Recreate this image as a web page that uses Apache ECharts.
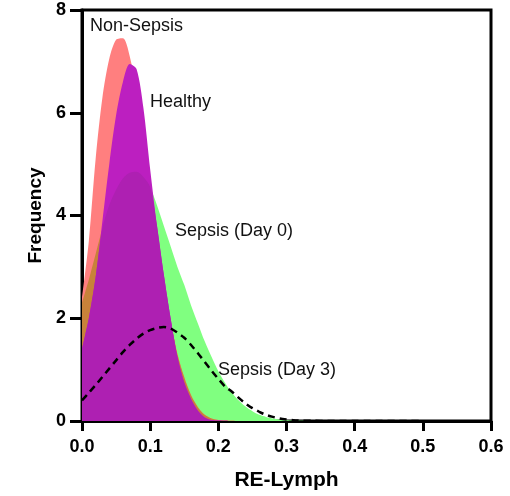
<!DOCTYPE html>
<html><head><meta charset="utf-8">
<script src="https://cdn.jsdelivr.net/npm/echarts@6/dist/echarts.min.js"></script>
<style>html,body{margin:0;padding:0;background:#fff}#c{width:510px;height:496px}</style>
</head><body><div id="c"></div>
<script>
// x positions (RE-Lymph)
const xs = [0,0.01,0.02,0.03,0.04,0.05,0.06,0.07,0.08,0.09,0.10,0.11,0.12,0.13,0.14,0.15,0.16,0.17,0.18,0.19,0.20,0.21,0.22,0.23,0.24,0.25,0.26,0.27,0.28,0.29,0.30,0.31,0.32,0.34,0.36,0.38,0.40,0.42,0.44,0.46,0.48,0.50];
const nonSepsis = [2.4,3.5,5.1,6.3,7.05,7.42,7.45,7.1,6.4,5.5,4.6,3.6,2.7,1.95,1.3,0.85,0.5,0.27,0.12,0.05,0.02,0.01,0.005,0,0,0,0,0,0,0,0,0,0,0,0,0,0,0,0,0,0,0];
const healthy = [1.4,2.0,2.8,3.9,5.0,5.95,6.6,6.95,6.85,6.1,4.9,3.8,2.85,2.0,1.25,0.75,0.43,0.2,0.07,0.02,0.01,0.005,0,0,0,0,0,0,0,0,0,0,0,0,0,0,0,0,0,0,0,0];
const sepsisDay0 = [2.3,2.75,3.25,3.75,4.2,4.5,4.72,4.83,4.85,4.75,4.55,4.2,3.8,3.4,3.0,2.65,2.25,1.9,1.55,1.25,0.97,0.74,0.55,0.4,0.28,0.19,0.12,0.08,0.05,0.03,0.015,0.008,0.004,0,0,0,0,0,0,0,0,0];
const sepsisDay3 = [0.40,0.55,0.70,0.86,1.02,1.18,1.34,1.48,1.6,1.7,1.77,1.81,1.83,1.8,1.72,1.62,1.48,1.32,1.15,0.98,0.82,0.67,0.57,0.45,0.34,0.25,0.18,0.12,0.08,0.05,0.03,0.015,0.008,0.003,0,0,0,0,0,0,0,0];
const xTicks = ['0.0','0.1','0.2','0.3','0.4','0.5','0.6'];
const yTicks = ['0','2','4','6','8'];
const labels = ['Non-Sepsis','Healthy','Sepsis (Day 0)','Sepsis (Day 3)'];

const pairs = arr => xs.map((x,i)=>[x,arr[i]]);
const minOf = (a,b) => a.map((v,i)=>Math.min(v,b[i]));

const area = (name, data, color) => ({
  type:'line', name, data: pairs(data), smooth:0.3, symbol:'none',
  lineStyle:{width:0}, areaStyle:{color, opacity:1}, silent:true
});

const chart = echarts.init(document.getElementById('c'), null, {renderer:'canvas'});
const F = 'Liberation Sans, Arial, Helvetica, sans-serif';
chart.setOption({
  animation:false,
  backgroundColor:'#fff',
  grid:{left:82,right:19,top:10,bottom:75,show:true,borderColor:'#000',borderWidth:3,backgroundColor:'transparent'},
  xAxis:{type:'value',min:0,max:0.6,interval:0.1,
    name:'RE-Lymph',nameLocation:'middle',nameGap:49,
    nameTextStyle:{fontFamily:F,fontWeight:'bold',fontSize:21,color:'#000'},
    axisLine:{onZero:false,lineStyle:{color:'#000',width:3}},
    axisTick:{length:10,lineStyle:{color:'#000',width:3}},
    axisLabel:{margin:17,fontFamily:F,fontWeight:'bold',fontSize:18,color:'#000',
      formatter:(v)=>xTicks[Math.round(v*10)]},
    splitLine:{show:false}},
  yAxis:{type:'value',min:0,max:8,interval:2,
    name:'Frequency',nameLocation:'middle',nameGap:36,
    nameTextStyle:{fontFamily:F,fontWeight:'bold',fontSize:19,color:'#000'},
    axisLine:{show:true,lineStyle:{color:'#000',width:3}},
    axisTick:{show:true,length:12,lineStyle:{color:'#000',width:3}},
    axisLabel:{margin:16,fontFamily:F,fontWeight:'bold',fontSize:18,color:'#000',
      formatter:(v)=>yTicks[v/2]},
    splitLine:{show:false}},
  graphic:[
    {type:'text',left:90,top:17,style:{text:labels[0],font:'18px '+F,fill:'#111'}},
    {type:'text',left:150,top:93,style:{text:labels[1],font:'18px '+F,fill:'#111'}},
    {type:'text',left:175,top:222,style:{text:labels[2],font:'18px '+F,fill:'#111'}},
    {type:'text',left:218,top:361,style:{text:labels[3],font:'18px '+F,fill:'#111'}}
  ],
  series:[
    area(labels[2], sepsisDay0, '#80FF80'),
    area(labels[0], nonSepsis, '#FF7F7F'),
    area('overlap1', minOf(nonSepsis, sepsisDay0), '#C8823A'),
    area(labels[1], healthy, '#BC1FC0'),
    area('overlap2', minOf(healthy, sepsisDay0), '#AE20B2'),
    {type:'line',name:labels[3],data:pairs(sepsisDay3),smooth:0.3,symbol:'none',silent:true,
      lineStyle:{color:'#000',width:2.5,type:[7,5]}}
  ]
});
</script></body></html>
